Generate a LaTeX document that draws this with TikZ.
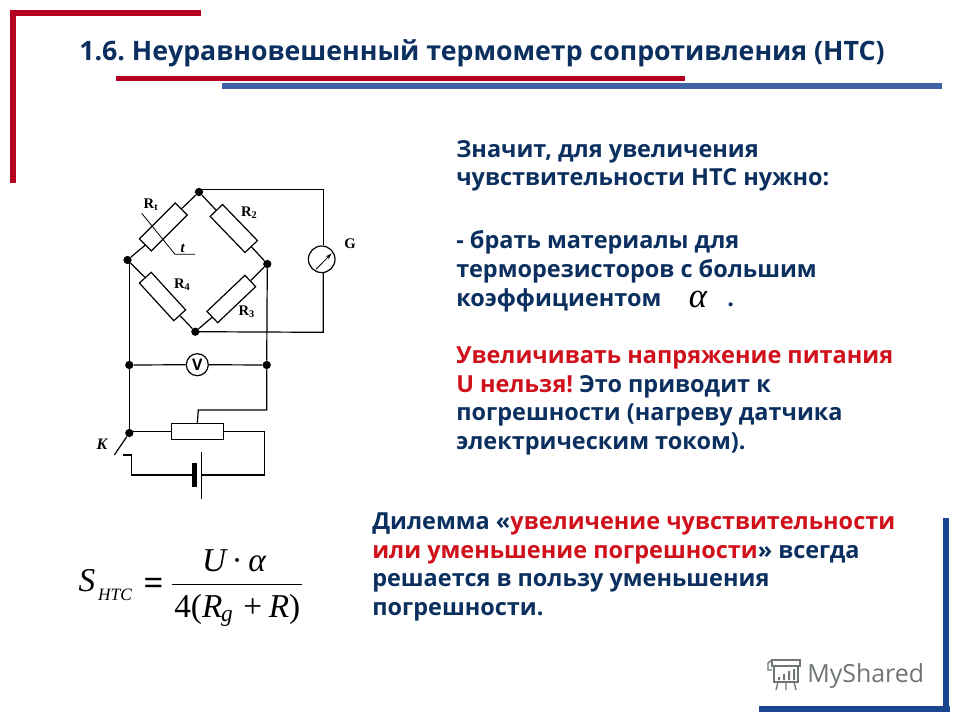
\documentclass[tikz,border=0pt]{standalone}
\usepackage{fontspec}
\usetikzlibrary{arrows.meta}
\setmainfont{Open Sans}
\newfontfamily\serifx{Liberation Serif}
\newfontfamily\logofont{Open Sans}
\definecolor{navy}{HTML}{0B2F5E}
\definecolor{redtxt}{HTML}{D0101A}
\definecolor{redbar}{HTML}{B5001F}
\definecolor{bluebar}{HTML}{3F62A5}
\definecolor{bluedark}{HTML}{1A4590}
\definecolor{logogray}{HTML}{6F7573}
\frenchspacing
\tikzset{
  x=0.75pt,y=-0.75pt,
  wire/.style={line width=0.9pt,black},
  dotnode/.style={circle,fill=black,inner sep=0pt,minimum size=6.2pt},
  resistor/.style={draw,line width=0.9pt,rectangle,inner sep=0pt,fill=none},
  meter/.style={draw,line width=0.9pt,circle,inner sep=0pt},
  title/.style={anchor=base west,inner sep=0pt,text=navy,font=\fontsize{20.03pt}{20.03pt}\selectfont\bfseries},
  body/.style={anchor=base west,inner sep=0pt,text=navy,font=\fontsize{17.6pt}{17.6pt}\selectfont\bfseries},
  clabel/.style={inner sep=0pt,font=\fontsize{11pt}{11pt}\selectfont\serifx\bfseries},
  formula/.style={inner sep=0pt,anchor=base,font=\fontsize{25pt}{25pt}\selectfont\serifx\itshape},
}
\begin{document}
\begin{tikzpicture}
\useasboundingbox (0,0) rectangle (960,720);
% frame bars
\fill[redbar] (10,10) rectangle (201,16);
\fill[redbar] (10,10) rectangle (16,183);
\fill[redbar] (116,76) rectangle (685,81);
\fill[bluebar] (222,83) rectangle (942,89);
\fill[bluedark] (943,518) rectangle (949,712);
\fill[bluedark] (759,706) rectangle (950,712);
% title
\node[title] (ttl) at (79,61) {1.6. Неуравновешенный термометр сопротивления (НТС)};
% text right
\node[body] (a1) at (456,158) {Значит, для увеличения};
\node[body] (a2) at (456,186) {чувствительности НТС нужно:};
\node[body] (b1) at (456,249) {- брать материалы для};
\node[body] (b2) at (456,278) {терморезисторов с большим};
\node[body] (b3) at (456,306) {коэффициентом};
\node[formula,font=\fontsize{26pt}{26pt}\selectfont\serifx\itshape] (alf) at (698,307) {\smash{α}};
\node[body] (b4) at (727,306) {.};
\node[body,text=redtxt] (c1) at (456,363) {Увеличивать напряжение питания};
\node[body] (c2) at (456,392) {\textcolor{redtxt}{U нельзя!} Это приводит к};
\node[body] (c3) at (456,420) {погрешности (нагреву датчика};
\node[body] (c4) at (456,449) {электрическим током).};
\node[body] (d1) at (372,529) {Дилемма «\textcolor{redtxt}{увеличение чувствительности}};
\node[body] (d2) at (372,558) {\textcolor{redtxt}{или уменьшение погрешности}» всегда};
\node[body] (d3) at (372,586) {решается в пользу уменьшения};
\node[body] (d4) at (372,615) {погрешности.};
% circuit nodes
\node[dotnode] (T) at (199,192) {};
\node[dotnode] (L) at (127.5,260) {};
\node[dotnode] (Rr) at (267.3,264) {};
\node[dotnode] (B) at (195.3,331.7) {};
\node[dotnode] (VL) at (129.3,365) {};
\node[dotnode] (VR) at (266.7,365) {};
\node[dotnode] (K) at (129.3,433) {};
\node[resistor,minimum width=50.7*0.75pt,minimum height=17*0.75pt,rotate=45] (Rt) at (163.3,227) {};
\node[resistor,minimum width=50.2*0.75pt,minimum height=17.2*0.75pt,rotate=-46] (R2) at (233.8,228.5) {};
\node[resistor,minimum width=51*0.75pt,minimum height=16*0.75pt,rotate=-47.5] (R4) at (162.5,296.5) {};
\node[resistor,minimum width=52.3*0.75pt,minimum height=15.6*0.75pt,rotate=43.5] (R3) at (231.3,299) {};
\node[meter,minimum size=26.6*0.75pt] (G) at (321.7,259.3) {};
\node[meter,minimum size=22*0.75pt,font=\fontsize{12pt}{12pt}\selectfont\bfseries] (V) at (197.3,364.7) {V};
\node[resistor,minimum width=51.6*0.75pt,minimum height=16*0.75pt] (Rh) at (197.5,431.3) {};
\coordinate (gt) at (323.3,189.3);
\coordinate (gb) at (323.3,332.3);
\coordinate (rvb) at (266.7,410);
\coordinate (tap) at (198.3,410);
\coordinate (rhR) at (264.3,431.3);
\coordinate (batR) at (264.3,475);
\coordinate (pl) at (201.7,475);
\coordinate (pth) at (194.7,475);
\coordinate (batL) at (131.7,475);
\coordinate (batU) at (131.7,455);
\coordinate (swC) at (123.3,455);
\coordinate (swE) at (114.3,455);
% wires
\draw[wire] (L) -- (Rt.west) (Rt.east) -- (T);
\draw[wire] (T) -- (R2.west) (R2.east) -- (Rr);
\draw[wire] (L) -- (R4.west) (R4.east) -- (B);
\draw[wire] (B) -- (R3.west) (R3.east) -- (Rr);
\draw[wire] (T.center) -- (199,189.3) -- (gt) -- (G.north -| gt);
\draw[wire] (G.south -| gb) -- (gb) -- (B.center);
\draw[wire] (129.3,260) -- (VL) -- (K);
\draw[wire] (Rr) -- (VR) -- (rvb) -- (tap) -- (197.3,423.3);
\draw[wire] (VL) -- (V) -- (VR);
\draw[wire] (129.3,431.3) -- (Rh.west);
\draw[wire] (Rh.east) -- (rhR) -- (batR) -- (pl);
\draw[wire] (201.7,451.7) -- (201.7,499.3);
\fill (192.2,463.3) rectangle (197.2,486.7);
\draw[wire] (pth) -- (batL) -- (batU) -- (swC);
\draw[wire] (K) -- (swE);
% G pointer
\draw[line width=0.6pt,-{Stealth[length=5pt,width=3pt]}] (316,269.3) -- (331.7,253.3);
% t line
\draw[line width=0.6pt] (141.7,213.3) -- (175,254.3) -- (195,254.3);
% labels
\node[clabel] (lRt) at (151,205) {R\textsubscript{t}};
\node[clabel] (lR2) at (249.3,212.7) {R\textsubscript{2}};
\node[clabel] (lR4) at (182.3,285) {R\textsubscript{4}};
\node[clabel] (lR3) at (246.7,311.7) {R\textsubscript{3}};
\node[clabel] (lG) at (350,244) {G};
\node[clabel,font=\fontsize{11pt}{11pt}\selectfont\serifx\bfseries\itshape] (lt) at (182.7,248) {t};
\node[clabel,font=\fontsize{12pt}{12pt}\selectfont\serifx\bfseries\itshape] (lK) at (102,444) {K};
% formula
\node[formula] (fS) at (87,591.7) {S};
\node[formula,font=\fontsize{13pt}{13pt}\selectfont\serifx\itshape] (fH) at (115,600) {HTC};
\node[formula,font=\fontsize{26pt}{26pt}\selectfont\serifx\bfseries] (fE) at (153.5,594) {=};
\draw[line width=0.8pt] (171.7,584.3) -- (301.7,584.3);
\node[formula] (fN) at (234,571.7) {U\,{\upshape ·}\,α};
\node[formula,anchor=base west] (fD) at (174,617) {{\upshape 4(}R\textsubscript{\kern-1pt g}\kern7.5pt{\upshape +}\kern5pt R{\upshape )}};
% logo
\node[anchor=base west,inner sep=0pt,text=logogray,font=\fontsize{18.7pt}{18.7pt}\selectfont\logofont] (logo) at (807,682) {MyShared};
\begin{scope}[draw=logogray,line width=1pt]
\draw (772,660) -- (800,660) -- (800,666) -- (772,666) -- cycle;
\draw (774,666) -- (774,682) -- (798,682) -- (798,666);
\draw (772,660) -- (768,663) -- (768,670) -- (772,670);
\draw (778,682) -- (776,690) (786,682) -- (786,690) (794,682) -- (796,690);
\fill[logogray] (778,677) rectangle (780,680) (783,674) rectangle (785,680) (788,671) rectangle (790,680) (793,669) rectangle (795,680);
\end{scope}
\end{tikzpicture}
\end{document}
